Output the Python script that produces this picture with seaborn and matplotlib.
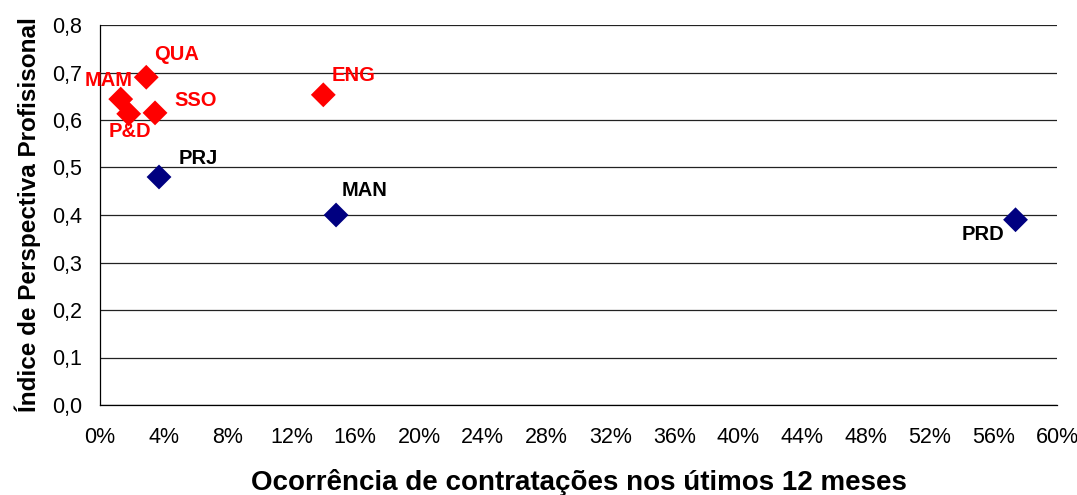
import seaborn as sns
import matplotlib.pyplot as plt
import pandas as pd
from matplotlib.ticker import FuncFormatter, MultipleLocator

# data
areas = ['MAM', 'QUA', 'P&D', 'SSO', 'ENG', 'PRJ', 'MAN', 'PRD']
contratacoes = [0.013, 0.029, 0.018, 0.0345, 0.140, 0.037, 0.148, 0.574]
perspectiva = [0.644, 0.690, 0.613, 0.615, 0.653, 0.480, 0.400, 0.390]
grupo = ['alto', 'alto', 'alto', 'alto', 'alto', 'baixo', 'baixo', 'baixo']

df = pd.DataFrame({'area': areas, 'x': contratacoes, 'y': perspectiva, 'grupo': grupo})

# label offsets in pixels (dx, dy)
offsets = {
    'MAM': (-12, 19),
    'QUA': (30, 23),
    'P&D': (1, -18),
    'SSO': (41, 12),
    'ENG': (30, 19),
    'PRJ': (39, 19),
    'MAN': (29, 25),
    'PRD': (-33, -15),
}

sns.set_style('white')
plt.rcParams['font.family'] = ['Liberation Sans', 'DejaVu Sans']
plt.rcParams['text.color'] = 'black'
plt.rcParams['axes.labelcolor'] = 'black'

fig = plt.figure(figsize=(10.77, 4.95), dpi=100)
ax = fig.add_axes([100 / 1077, 90 / 495, 957 / 1077, 380 / 495])

cores = {'alto': '#ff0000', 'baixo': '#000080'}
sns.scatterplot(data=df, x='x', y='y', hue='grupo', palette=cores, marker='D',
                s=160, edgecolor='none', legend=False, ax=ax, zorder=3)

for a, x, y, g in zip(areas, contratacoes, perspectiva, grupo):
    dx, dy = offsets[a]
    ax.annotate(a, (x, y), xytext=(dx, dy), textcoords='offset pixels',
                ha='center', va='center', fontsize=14.5, fontweight='bold',
                color='#ff0000' if g == 'alto' else 'black')

ax.set_xlim(0, 0.6)
ax.set_ylim(0, 0.8)
ax.xaxis.set_major_locator(MultipleLocator(0.04))
ax.yaxis.set_major_locator(MultipleLocator(0.1))
ax.xaxis.set_major_formatter(FuncFormatter(lambda v, p: f'{round(v * 100)}%'))
ax.yaxis.set_major_formatter(FuncFormatter(lambda v, p: f'{v:.1f}'.replace('.', ',')))
ax.grid(axis='y', color='#222222', linewidth=0.9)
ax.grid(axis='x', visible=False)
ax.set_axisbelow(True)

for s in ['top', 'right']:
    ax.spines[s].set_visible(False)
for s in ['left', 'bottom']:
    ax.spines[s].set_color('black')
    ax.spines[s].set_linewidth(0.9)

ax.tick_params(axis='both', which='major', direction='out', length=6, width=0.9,
               color='black', labelsize=15.5, labelcolor='black')
ax.tick_params(axis='x', pad=10)
ax.tick_params(axis='y', pad=7)

ax.set_xlabel('Ocorrência de contratações nos útimos 12 meses', fontsize=20,
              fontweight='bold', labelpad=15)
ax.set_ylabel('Índice de Perspectiva Profisisonal', fontsize=17.5,
              fontweight='bold', labelpad=8)

plt.savefig('out.png', dpi=100)
